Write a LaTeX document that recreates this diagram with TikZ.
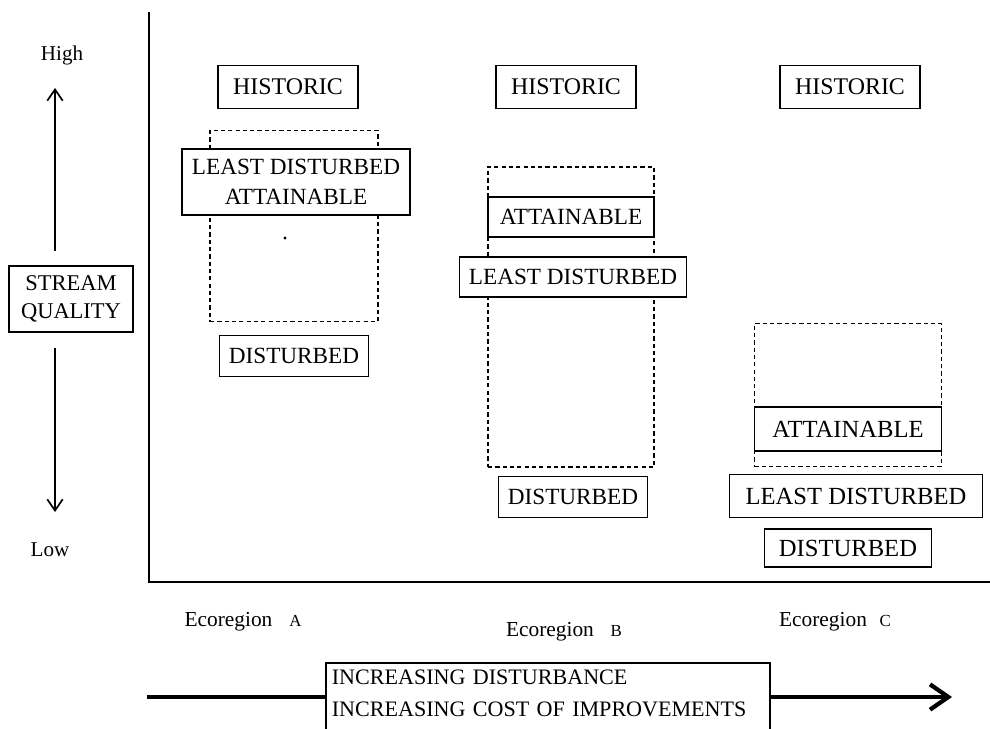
\documentclass[tikz,border=0pt]{standalone}
\usepackage{fontspec}
\setmainfont{Liberation Serif}
\usepackage{tikz}
\usetikzlibrary{arrows.meta, positioning}
\newcommand{\pxu}{0.025cm}

\begin{document}
\begin{tikzpicture}[x=0.025cm, y=-0.025cm,
  levelbox/.style={draw, line width=1.25pt, fill=white, inner sep=0pt, align=center, font=\fontsize{16.5}{21}\selectfont},
  histbox/.style={levelbox, font=\fontsize{17}{20}\selectfont, minimum width=140*\pxu, minimum height=43*\pxu},
  distbox/.style={levelbox, minimum width=149*\pxu, minimum height=41*\pxu},
  bigbox/.style={levelbox, font=\fontsize{17.5}{21}\selectfont},
  rangebox/.style={draw, line width=1.2pt, dash pattern=on 3pt off 2.2pt, inner sep=0pt},
  axislabel/.style={font=\fontsize{15}{18}\selectfont},
  ecolabel/.style={font=\fontsize{15.2}{18}\selectfont},
  qarrow/.style={line width=1.2pt, -{Straight Barb[length=8pt, width=11pt]}}]
  \useasboundingbox (0,0) rectangle (990,728);

  % Axes
  \coordinate (ytop) at (149,12);
  \coordinate (origin) at (149,582);
  \coordinate (xend) at (990,582);
  \draw[line width=1.5pt] (ytop) -- (origin) -- (xend);

  % Stream quality scale
  \node[axislabel] (high) at (62,55) {High};
  \node[axislabel] (low) at (50,550) {Low};
  \node[levelbox, font=\fontsize{16}{20}\selectfont, minimum width=124*\pxu, minimum height=66*\pxu] (quality) at (71,299) {STREAM\\QUALITY};
  \coordinate (upend) at (55,88);
  \coordinate (downend) at (55,512);
  \draw[qarrow] (quality.north -| upend) ++(0,-14) -- (upend);
  \draw[qarrow] (quality.south -| downend) ++(0,15) -- (downend);

  % Ecoregion A
  \node[histbox] (histA) at (288,87) {HISTORIC};
  \node[rangebox, minimum width=168*\pxu, minimum height=191*\pxu] (rangeA) at (294,226) {};
  \node[levelbox, minimum width=228*\pxu, minimum height=66*\pxu] (ldA) at (296,182) {LEAST DISTURBED\\ATTAINABLE};
  \fill (285,238) circle (1.2pt);
  \node[distbox] (distA) at (294,356) {DISTURBED};

  % Ecoregion B
  \node[histbox] (histB) at (566,87) {HISTORIC};
  \node[rangebox, minimum width=166*\pxu, minimum height=300*\pxu] (rangeB) at (571,317) {};
  \node[levelbox, minimum width=166*\pxu, minimum height=40*\pxu] (attB) at (571,217) {ATTAINABLE};
  \node[levelbox, minimum width=227*\pxu, minimum height=40*\pxu] (ldB) at (573,277) {LEAST DISTURBED};
  \node[distbox] (distB) at (573,497) {DISTURBED};

  % Ecoregion C
  \node[histbox] (histC) at (850,87) {HISTORIC};
  \node[rangebox, minimum width=187*\pxu, minimum height=143*\pxu] (rangeC) at (848,395) {};
  \node[bigbox, minimum width=187*\pxu, minimum height=44*\pxu] (attC) at (848,429) {ATTAINABLE};
  \node[bigbox, minimum width=253*\pxu, minimum height=43*\pxu] (ldC) at (856,496) {LEAST DISTURBED};
  \node[bigbox, minimum width=167*\pxu, minimum height=38*\pxu] (distC) at (848,548) {DISTURBED};

  % Ecoregion labels
  \node[ecolabel] (ecoA) at (243,622) {Ecoregion\hspace{12pt}{\fontsize{12}{12}\selectfont A}};
  \node[ecolabel] (ecoB) at (564,632) {Ecoregion\hspace{12pt}{\fontsize{12}{12}\selectfont B}};
  \node[ecolabel] (ecoC) at (835,622) {Ecoregion\hspace{9pt}{\fontsize{12}{12}\selectfont C}};

  % Disturbance gradient
  \coordinate (dstart) at (147,697);
  \coordinate (dend) at (952,697);
  \draw[line width=2.4pt, -{Straight Barb[length=13pt, width=18pt, line width=3pt]}] (dstart) -- (dend);
  \node[draw, line width=1.25pt, fill=white, anchor=north west, inner xsep=6*\pxu, inner ysep=5pt,
        text width=432*\pxu, align=left, font=\fontsize{15.7}{22.8}\selectfont] (cost) at (325,662)
    {INCREASING DISTURBANCE\\INCREASING COST OF IMPROVEMENTS\rule[-16pt]{0pt}{16pt}};
\end{tikzpicture}
\end{document}
